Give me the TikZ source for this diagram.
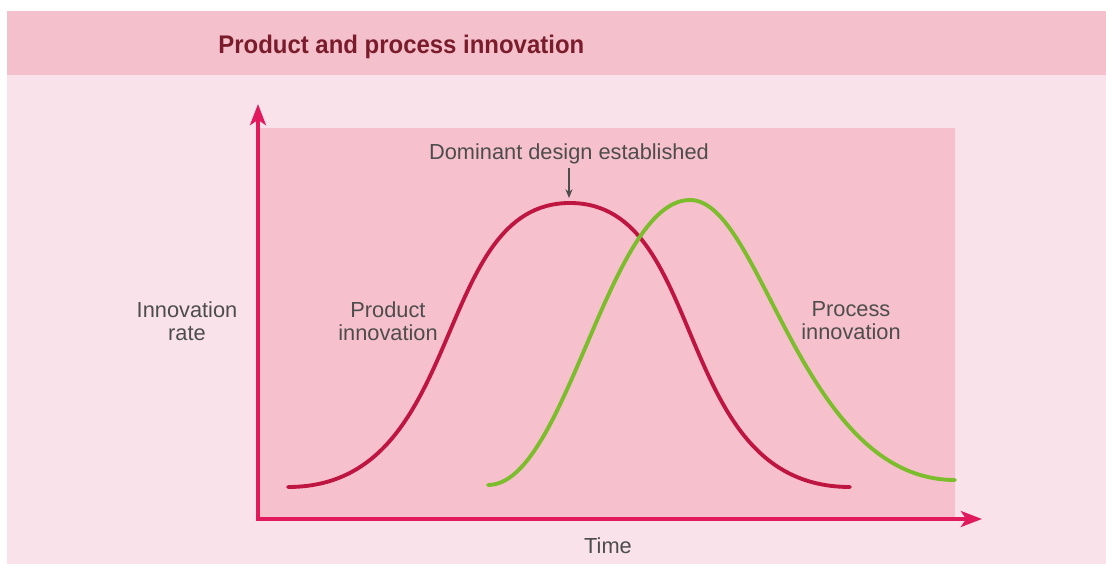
\documentclass[tikz,border=0pt]{standalone}
\usepackage{fontspec}
\setmainfont{Liberation Sans}
\newfontfamily\titlefont[FakeStretch=0.94]{Liberation Sans}
\usetikzlibrary{arrows.meta}
\definecolor{bandpink}{HTML}{F4C0CB}
\definecolor{backpink}{HTML}{F9E2E9}
\definecolor{plotpink}{HTML}{F7C0CD}
\definecolor{axisred}{HTML}{E01A5C}
\definecolor{productred}{HTML}{BE1541}
\definecolor{processgreen}{HTML}{7CBD2C}
\definecolor{titlered}{HTML}{7A1C2C}
\definecolor{labelgray}{HTML}{4D4D4D}
\begin{document}
\begin{tikzpicture}[x=0.02cm,y=-0.02cm,
	label/.style={inner sep=0pt,text=labelgray,align=center,font=\fontsize{12.4}{13.1}\selectfont},
	axis/.style={draw=axisred,line width=2.6pt,-{Stealth[length=12pt,width=9pt,inset=3pt]}},
	curve/.style={line width=2.2pt,line cap=round},
	pointer/.style={draw=labelgray,line width=0.8pt,-{Stealth[length=5pt,width=4pt]}}]
	  \useasboundingbox (0,0) rectangle (1106,564);
	  \fill[white] (0,0) rectangle (1106,564);
	  \fill[backpink] (7,75) rectangle (1106,564);
	  \fill[bandpink] (7,11) rectangle (1106,75);
	  \fill[plotpink] (258,128) rectangle (955,517);

	  \node[anchor=base west,inner sep=0pt,text=titlered,font=\titlefont\bfseries\fontsize{14.5}{17}\selectfont] (title) at (218,54) {Product and process innovation};

	  \coordinate (origin) at (258,519);
	  \coordinate (ytip) at (258,104);
	  \coordinate (xtip) at (982,519);
	  \coordinate (peak) at (570,198);

	  \draw[curve,productred] (288,487) .. controls (468,487) and (430,203) .. (570,203) .. controls (710,203) and (670,487) .. (850,487);
	  \draw[curve,processgreen] (488,485) .. controls (566,485) and (608,200) .. (690,200) .. controls (762,200) and (800,480) .. (955,480);

	  \draw[axis] ([yshift=-1.3pt]origin) -- (ytip);
	  \draw[axis] ([xshift=-1.3pt]origin) -- (xtip);

	  \node[label,anchor=base] (dominant) at (569,160) {Dominant design established};
	  \node[label] (rate) at (187,321) {Innovation\\rate};
	  \node[label] (product) at (388,321) {Product\\innovation};
	  \node[label] (process) at (851,321) {Process\\innovation};
	  \node[label,anchor=base] (time) at (608,553) {Time};

	  \draw[pointer,shorten <=2pt] (dominant.south) -- (dominant.south |- peak);
	\end{tikzpicture}
\end{document}
